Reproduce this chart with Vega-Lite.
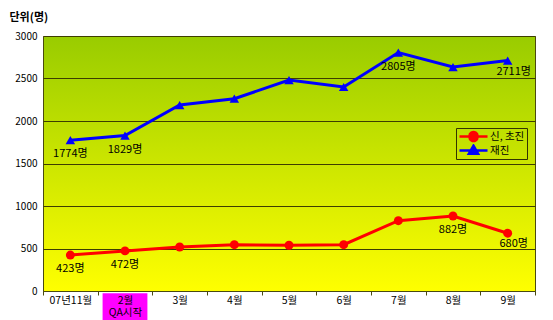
{
  "$schema": "https://vega.github.io/schema/vega-lite/v6.json",
  "autosize": "none",
  "width": 492,
  "height": 255,
  "padding": {"left": 43, "top": 36, "right": 18, "bottom": 29},
  "background": "#ffffff",
  "config": {
    "font": "Noto Sans CJK KR",
    "view": {
      "stroke": "#4a4a10",
      "strokeWidth": 1,
      "fill": {
        "gradient": "linear", "x1": 0, "y1": 0, "x2": 0, "y2": 1,
        "stops": [
          {"offset": 0, "color": "#99cc00"},
          {"offset": 0.5, "color": "#cce600"},
          {"offset": 1, "color": "#ffff00"}
        ]
      }
    }
  },
  "data": {
    "values": [
      {"month": "07년11월", "series": "신, 초진", "value": 423, "label": "423명"},
      {"month": "2월", "series": "신, 초진", "value": 472, "label": "472명"},
      {"month": "3월", "series": "신, 초진", "value": 518, "label": ""},
      {"month": "4월", "series": "신, 초진", "value": 545, "label": ""},
      {"month": "5월", "series": "신, 초진", "value": 538, "label": ""},
      {"month": "6월", "series": "신, 초진", "value": 545, "label": ""},
      {"month": "7월", "series": "신, 초진", "value": 827, "label": ""},
      {"month": "8월", "series": "신, 초진", "value": 882, "label": "882명"},
      {"month": "9월", "series": "신, 초진", "value": 680, "label": "680명"},
      {"month": "07년11월", "series": "재진", "value": 1774, "label": "1774명"},
      {"month": "2월", "series": "재진", "value": 1829, "label": "1829명"},
      {"month": "3월", "series": "재진", "value": 2188, "label": ""},
      {"month": "4월", "series": "재진", "value": 2262, "label": ""},
      {"month": "5월", "series": "재진", "value": 2482, "label": ""},
      {"month": "6월", "series": "재진", "value": 2400, "label": ""},
      {"month": "7월", "series": "재진", "value": 2805, "label": "2805명"},
      {"month": "8월", "series": "재진", "value": 2635, "label": ""},
      {"month": "9월", "series": "재진", "value": 2711, "label": "2711명"}
    ]
  },
  "encoding": {
    "x": {
      "field": "month", "type": "nominal",
      "sort": ["07년11월", "2월", "3월", "4월", "5월", "6월", "7월", "8월", "9월"],
      "scale": {"type": "band", "paddingInner": 0, "paddingOuter": 0},
      "axis": {
        "title": null, "labelAngle": 0, "zindex": 1,
        "tickBand": "extent", "tickSize": 4, "tickColor": "#4a4a10",
        "domainColor": "#4a4a10",
        "labelFontSize": 10.5, "labelColor": "#000000", "labelPadding": 0,
        "labelLineHeight": 12.5,
        "labelExpr": "datum.label === '2월' ? ['2월', 'QA시작'] : datum.label"
      }
    },
    "y": {
      "field": "value", "type": "quantitative",
      "scale": {"domain": [0, 3000], "nice": false},
      "axis": {
        "values": [0, 500, 1000, 1500, 2000, 2500, 3000],
        "format": "d",
        "ticks": false, "domain": false,
        "grid": true, "gridColor": "#3d3d00", "gridOpacity": 1, "gridWidth": 1,
        "labelFontSize": 10, "labelColor": "#000000", "labelPadding": 6,
        "title": "단위(명)", "titleAngle": 0, "titleX": -34, "titleY": -19,
        "titleAlign": "left", "titleBaseline": "middle",
        "titleFontSize": 11, "titleFontWeight": "bold", "titleColor": "#000000"
      }
    }
  },
  "layer": [
    {
      "data": {"values": [{"month": "2월", "top": -25, "bottom": -340}]},
      "mark": {"type": "bar", "color": "#ff00ff", "clip": false, "width": {"band": 0.82}},
      "encoding": {
        "y": {"field": "top", "type": "quantitative"},
        "y2": {"field": "bottom"}
      }
    },
    {
      "mark": {"type": "line", "strokeWidth": 3},
      "encoding": {
        "color": {
          "field": "series", "type": "nominal",
          "scale": {"domain": ["신, 초진", "재진"], "range": ["#ff0000", "#0000ff"]},
          "legend": {
            "title": null, "orient": "none", "legendX": 413, "legendY": 92,
            "padding": 2, "strokeColor": "#333300", "fillColor": null,
            "symbolSize": 144, "labelOffset": 17, "rowPadding": 1,
            "clipHeight": 13,
            "labelFontSize": 10.5, "labelColor": "#000000",
            "symbolType": {"expr": "datum.value === '재진' ? 'M-1,0H3.67M1.33,-0.8L2.1,0.55L0.56,0.55Z' : 'M-1,0H3.67M2,0A0.67,0.67 0 1,1 0.67,0A0.67,0.67 0 1,1 2,0'"},
            "symbolStrokeWidth": 2.5,
            "encode": {
              "symbols": {
                "update": {
                  "shape": {"signal": "datum.value === '재진' ? 'M-1,0H3.67M1.33,-0.8L2.1,0.55L0.56,0.55Z' : 'M-1,0H3.67M2,0A0.67,0.67 0 1,1 0.67,0A0.67,0.67 0 1,1 2,0'"},
                  "fill": {"signal": "scale('color', datum.value)"},
                  "stroke": {"signal": "scale('color', datum.value)"},
                  "strokeWidth": {"value": 2.5},
                  "opacity": {"value": 1},
                  "fillOpacity": {"value": 1}
                }
              }
            }
          }
        }
      }
    },
    {
      "transform": [{"filter": "datum.series === '신, 초진'"}],
      "mark": {"type": "point", "filled": true, "opacity": 1, "shape": "circle", "size": 80},
      "encoding": {
        "color": {"field": "series", "type": "nominal", "legend": null}
      }
    },
    {
      "transform": [{"filter": "datum.series === '재진'"}],
      "mark": {"type": "point", "filled": true, "opacity": 1, "shape": "triangle-up", "size": 90},
      "encoding": {
        "color": {"field": "series", "type": "nominal", "legend": null}
      }
    },
    {
      "transform": [{"filter": "datum.label !== '' && datum.month !== '9월'"}],
      "mark": {"type": "text", "dy": 14, "fontSize": 11, "color": "#000000"},
      "encoding": {"text": {"field": "label"}}
    },
    {
      "transform": [{"filter": "datum.label !== '' && datum.month === '9월'"}],
      "mark": {"type": "text", "dy": 11, "dx": 6, "fontSize": 11, "color": "#000000"},
      "encoding": {"text": {"field": "label"}}
    }
  ]
}
